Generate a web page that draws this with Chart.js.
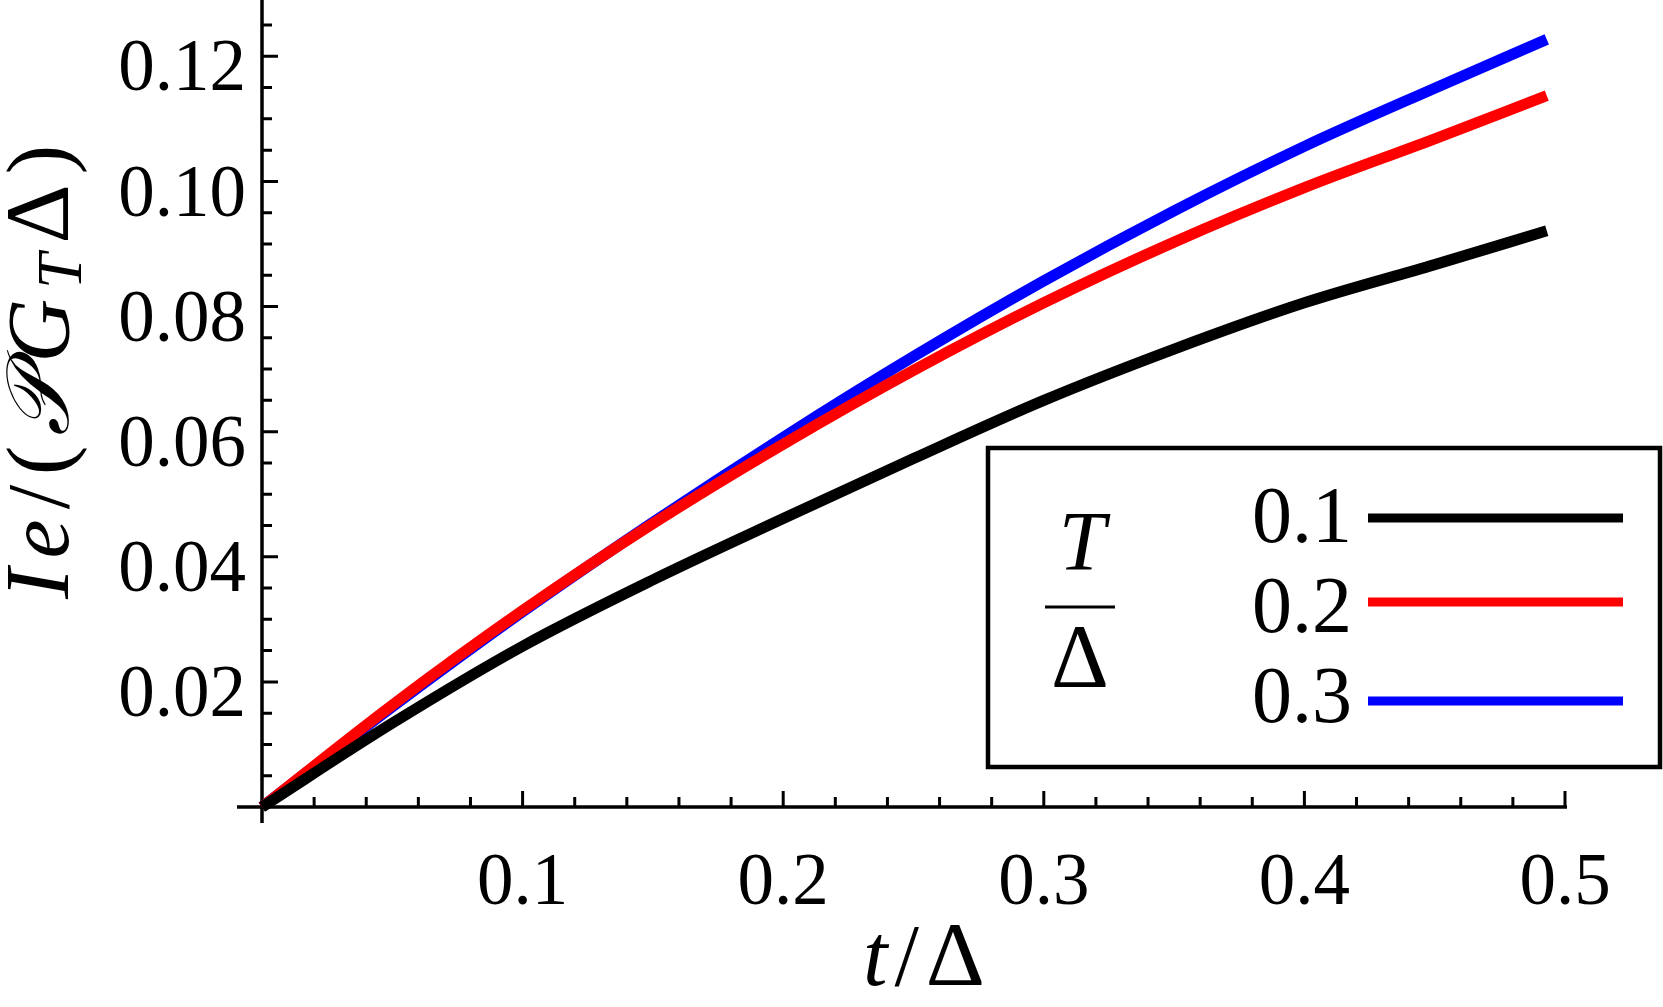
<!DOCTYPE html>
<html>
<head>
<meta charset="utf-8">
<title>Ie vs t/Delta</title>
<script src="https://cdn.jsdelivr.net/npm/chart.js@4.4.1/dist/chart.umd.min.js"></script>
<style>
  html, body { margin: 0; padding: 0; background: #fff; }
  #wrap { width: 1663px; height: 1007px; }
</style>
</head>
<body>
<div id="wrap"><canvas id="chart" width="1663" height="1007"></canvas></div>
<script>
// sample points along t/Delta
const tOverDelta = [0, 0.05, 0.1, 0.15, 0.2, 0.25, 0.3, 0.35, 0.4, 0.45, 0.493];
// Ie/(P G_T Delta) for each T/Delta
const currentT01 = [0, 0.0134, 0.0257, 0.0363, 0.0461, 0.0557, 0.0650, 0.0732, 0.0806, 0.0867, 0.0921];
const currentT02 = [0, 0.0163, 0.0314, 0.0453, 0.0580, 0.0698, 0.0806, 0.0903, 0.0990, 0.1068, 0.1137];
const currentT03 = [0, 0.0160, 0.0312, 0.0455, 0.0591, 0.0720, 0.0841, 0.0953, 0.1056, 0.1149, 0.1227];

const seriesLabels = ['0.1', '0.2', '0.3'];
const seriesColors = ['#000000', '#ff0000', '#0000ff'];

const xTickValues = [0.1, 0.2, 0.3, 0.4, 0.5];
const yTickValues = [0.02, 0.04, 0.06, 0.08, 0.10, 0.12];
const xMinorStep = 0.02;
const yMinorStep = 0.005;

const SERIF = '"Liberation Serif", "Times New Roman", serif';

function toPoints(ys) {
    return tOverDelta.map((t, i) => ({ x: t, y: ys[i] }));
}

// draws a row of text pieces with mixed styles, starting or centred at x
function drawParts(ctx, parts, x, y, align, gap) {
    const widths = parts.map(p => { ctx.font = p.font; return ctx.measureText(p.text).width; });
    const total = widths.reduce((a, b) => a + b, 0) + gap * (parts.length - 1);
    let cx = align === 'center' ? x - total / 2 : (align === 'right' ? x - total : x);
    parts.forEach((p, i) => {
        ctx.font = p.font;
        ctx.fillText(p.text, cx, y + (p.dy || 0));
        cx += widths[i] + gap;
    });
}

// axes in the Mathematica style: lines through the origin, ticks pointing inward
const axesPlugin = {
    id: 'originAxes',
    beforeDatasetsDraw(chart) {
        const { ctx, scales: { x, y } } = chart;
        const ox = x.getPixelForValue(0);
        const oy = y.getPixelForValue(0);
        ctx.save();
        ctx.strokeStyle = '#000';
        ctx.lineWidth = 3.5;
        ctx.beginPath();
        ctx.moveTo(ox - 25, oy);
        ctx.lineTo(x.getPixelForValue(0.5) + 2, oy);
        ctx.moveTo(ox, oy + 16);
        ctx.lineTo(ox, 0);
        ctx.stroke();

        ctx.lineWidth = 3;
        ctx.beginPath();
        for (let k = 1; k <= 25; k++) {
            const px = x.getPixelForValue(k * xMinorStep);
            const len = k % 5 === 0 ? 16 : 10;
            ctx.moveTo(px, oy);
            ctx.lineTo(px, oy - len);
        }
        for (let k = 1; k <= 25; k++) {
            const py = y.getPixelForValue(k * yMinorStep);
            const len = k % 4 === 0 ? 16 : 10;
            ctx.moveTo(ox, py);
            ctx.lineTo(ox + len, py);
        }
        ctx.stroke();
        ctx.restore();
    },
    afterDraw(chart) {
        const ctx = chart.ctx;
        ctx.save();
        ctx.fillStyle = '#000';
        ctx.textBaseline = 'alphabetic';
        ctx.textAlign = 'left';

        const it = 'italic 88px ' + SERIF;
        const rm = '88px ' + SERIF;

        // x axis title
        drawParts(ctx, [
            { text: 't', font: it },
            { text: '/', font: rm },
            { text: 'Δ', font: '92px ' + SERIF }
        ], 924, 985, 'center', 7);

        // y axis title, rotated
        ctx.save();
        ctx.translate(68, 372);
        ctx.rotate(-Math.PI / 2);
        drawParts(ctx, [
            { text: 'I', font: 'italic 92px ' + SERIF },
            { text: 'e', font: it },
            { text: '/', font: rm },
            { text: '(', font: rm },
            { text: '𝒫', font: it },
            { text: 'G', font: it },
            { text: 'T', font: 'italic 64px ' + SERIF, dy: 13 },
            { text: 'Δ', font: '92px ' + SERIF },
            { text: ')', font: rm }
        ], 0, 0, 'center', 10);
        ctx.restore();

        // legend box
        ctx.strokeStyle = '#000';
        ctx.lineWidth = 4.5;
        ctx.strokeRect(988, 448, 672, 319);

        // T/Delta fraction
        ctx.textAlign = 'center';
        ctx.font = 'italic 84px ' + SERIF;
        ctx.fillText('T', 1082, 570);
        ctx.fillRect(1045, 605.5, 70, 3);
        ctx.font = '90px ' + SERIF;
        ctx.fillText('Δ', 1080, 687);

        // entries
        const rowBase = [542, 632, 722];
        const lineY = [518, 602, 701];
        ctx.textAlign = 'right';
        ctx.font = '80px ' + SERIF;
        chart.data.datasets.forEach((ds, i) => {
            ctx.fillStyle = '#000';
            ctx.fillText(ds.label, 1352, rowBase[i]);
            ctx.strokeStyle = ds.borderColor;
            ctx.lineWidth = 9;
            ctx.beginPath();
            ctx.moveTo(1368, lineY[i]);
            ctx.lineTo(1623, lineY[i]);
            ctx.stroke();
        });
        ctx.restore();
    }
};

const datasets = [currentT01, currentT02, currentT03].map((ys, i) => ({
    label: seriesLabels[i],
    data: toPoints(ys),
    borderColor: seriesColors[i],
    backgroundColor: seriesColors[i],
    borderWidth: 11,
    pointRadius: 0,
    fill: false,
    cubicInterpolationMode: 'monotone',
    clip: false
}));

const tickFont = { family: SERIF, size: 73 };

new Chart(document.getElementById('chart').getContext('2d'), {
    type: 'line',
    data: { datasets: datasets },
    options: {
        responsive: false,
        animation: false,
        devicePixelRatio: 1,
        layout: { padding: { left: 0, right: 98, top: 0, bottom: 0 } },
        plugins: {
            legend: { display: false },
            tooltip: { enabled: false },
            title: { display: false }
        },
        scales: {
            x: {
                type: 'linear',
                min: 0,
                max: 0.5,
                grid: { display: false, drawTicks: false },
                border: { display: false },
                afterBuildTicks: scale => { scale.ticks = xTickValues.map(v => ({ value: v })); },
                afterFit: scale => {
                    scale.height = 200;
                    scale.paddingLeft = 0;
                    scale.paddingRight = 0;
                },
                ticks: {
                    font: tickFont,
                    color: '#000',
                    padding: 34,
                    maxRotation: 0,
                    autoSkip: false,
                    callback: v => v.toFixed(1)
                }
            },
            y: {
                type: 'linear',
                min: 0,
                max: 0.129,
                grid: { display: false, drawTicks: false },
                border: { display: false },
                afterBuildTicks: scale => { scale.ticks = yTickValues.map(v => ({ value: v })); },
                afterFit: scale => {
                    scale.width = 262;
                    scale.paddingTop = 0;
                    scale.paddingBottom = 0;
                },
                ticks: {
                    font: tickFont,
                    color: '#000',
                    padding: 16,
                    labelOffset: 15,
                    autoSkip: false,
                    callback: v => v.toFixed(2)
                }
            }
        }
    },
    plugins: [axesPlugin]
});
</script>
</body>
</html>
